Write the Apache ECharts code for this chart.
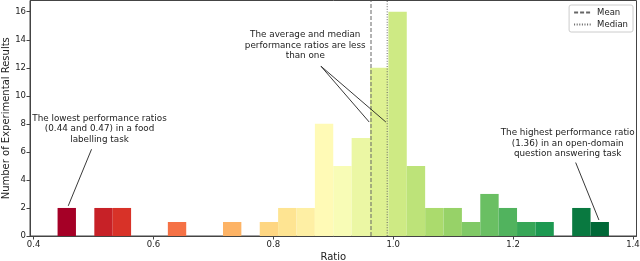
<!DOCTYPE html>
<html>
<head>
<meta charset="utf-8">
<script src="https://cdn.jsdelivr.net/npm/echarts@6/dist/echarts.min.js"></script>
<style>html,body{margin:0;padding:0;background:#fff}#c{width:640px;height:261px}</style>
</head>
<body>
<div id="c"></div>
<script>
// Histogram: 30 equal bins between the lowest and highest ratio
const binLow = 0.44;
const binHigh = 1.36;
const counts = [2,0,2,2,0,0,1,0,0,1,0,1,2,2,8,5,7,12,16,5,2,2,1,3,2,1,1,0,2,1];
const meanValue = 0.963;
const medianValue = 0.99;
const xTicks = [0.4,0.6,0.8,1.0,1.2,1.4];
const yTicks = [0,2,4,6,8,10,12,14,16];
const xRange = [0.394, 1.406];
const yRange = [0, 16.8];
const annotationTexts = [
  'The lowest performance ratios\n(0.44 and 0.47) in a food\nlabelling task',
  'The average and median\nperformance ratios are less\nthan one',
  'The highest performance ratio\n(1.36) in an open-domain\nquestion answering task'
];
const annotationTextAt = [[0.51,7.64],[0.8533,13.6],[1.2912,6.59]];
const arrowFrom = [[0.4967,6.19],[0.8795,12.11],[0.8795,12.11],[1.3045,5.24]];
const arrowTo = [[0.4578,2.15],[0.96,8.13],[0.9878,8.13],[1.3433,1.14]];

const stops = ['#a50026','#d73027','#f46d43','#fdae61','#fee08b','#ffffbf','#d9ef8b','#a6d96a','#66bd63','#1a9850','#006837'];
function hex(c){return [parseInt(c.slice(1,3),16),parseInt(c.slice(3,5),16),parseInt(c.slice(5,7),16)];}
function rdylgn(t){
  const p = t*(stops.length-1); const i = Math.min(Math.floor(p), stops.length-2); const f = p-i;
  const a = hex(stops[i]), b = hex(stops[i+1]);
  return 'rgb('+a.map((v,k)=>Math.round(v+(b[k]-v)*f)).join(',')+')';
}
const nBins = counts.length;
const w = (binHigh-binLow)/nBins;
const barData = counts.map((c,i)=>[binLow+i*w, binLow+(i+1)*w, c, i]);

const font = 'DejaVu Sans';
const chart = echarts.init(document.getElementById('c'), null, {renderer:'canvas'});
const option = {
  animation:false,
  textStyle:{fontFamily:font},
  grid:{left:30,right:3.5,top:0.5,bottom:25,containLabel:false,outerBoundsMode:'none',show:true,borderColor:'#444',borderWidth:1,backgroundColor:'transparent'},
  legend:{
    data:['Mean','Median'], orient:'vertical', right:7, top:5,
    itemWidth:18, itemHeight:8, itemGap:3,
    itemStyle:{opacity:0},
    borderColor:'#ccc', borderWidth:1, borderRadius:2, padding:[3,5,3,4],
    textStyle:{fontFamily:font,fontSize:8.5,color:'#222'}
  },
  xAxis:{
    type:'value', min:xRange[0], max:xRange[1],
    name:'Ratio', nameLocation:'middle', nameGap:16, nameMoveOverlap:false,
    nameTextStyle:{fontFamily:font,fontSize:10,color:'#222'},
    axisLine:{show:true,lineStyle:{color:'#444'}},
    axisTick:{show:true,customValues:xTicks,length:3.5,lineStyle:{color:'#444'}},
    axisLabel:{customValues:xTicks,formatter:v=>v.toFixed(1),fontFamily:font,fontSize:8.5,color:'#222',margin:4},
    splitLine:{show:false}
  },
  yAxis:{
    type:'value', min:yRange[0], max:yRange[1],
    name:'Number of Experimental Results', nameLocation:'middle', nameGap:19, nameRotate:90, nameMoveOverlap:false,
    nameTextStyle:{fontFamily:font,fontSize:10,color:'#222'},
    axisLine:{show:true,lineStyle:{color:'#444'}},
    axisTick:{show:true,customValues:yTicks,length:3.5,lineStyle:{color:'#444'}},
    axisLabel:{customValues:yTicks,fontFamily:font,fontSize:8.5,color:'#222',margin:4},
    splitLine:{show:false}
  },
  series:[
    {
      type:'custom', name:'hist', data:barData, z:2,
      encode:{x:[0,1],y:2},
      renderItem:function(params, api){
        const p0 = api.coord([api.value(0), api.value(2)]);
        const p1 = api.coord([api.value(1), 0]);
        return {type:'rect', shape:{x:p0[0], y:p0[1], width:p1[0]-p0[0], height:p1[1]-p0[1]},
          style:{fill:rdylgn(api.value(3)/(nBins-1)), stroke:null}};
      }
    },
    {
      type:'line', name:'Mean', data:[[meanValue,yRange[0]],[meanValue,yRange[1]]], symbol:'none', z:3,
      color:'#666', lineStyle:{color:'#666',width:1,type:[4,2]}
    },
    {
      type:'line', name:'Median', data:[[medianValue,yRange[0]],[medianValue,yRange[1]]], symbol:'none', z:3,
      color:'#666', lineStyle:{color:'#666',width:1,type:[1,1.6]}
    },
    {
      type:'line', name:'annot', data:[], z:5,
      markLine:{
        silent:true, animation:false, symbol:['none','arrow'], symbolSize:[0,6],
        lineStyle:{color:'#222',width:0.9,type:'solid'}, label:{show:false},
        data: arrowFrom.map((f,i)=>[{coord:f},{coord:arrowTo[i]}])
      }
    }
  ]
};
chart.setOption(option);
const g = annotationTexts.map((t,i)=>{
  const p = chart.convertToPixel({gridIndex:0}, annotationTextAt[i]);
  return {type:'text', x:p[0], y:p[1], z:10,
    style:{text:t, fill:'#222', font:'8.8px "DejaVu Sans"', align:'center', verticalAlign:'middle', lineHeight:10.5}};
});
chart.setOption({graphic:g});
</script>
</body>
</html>
